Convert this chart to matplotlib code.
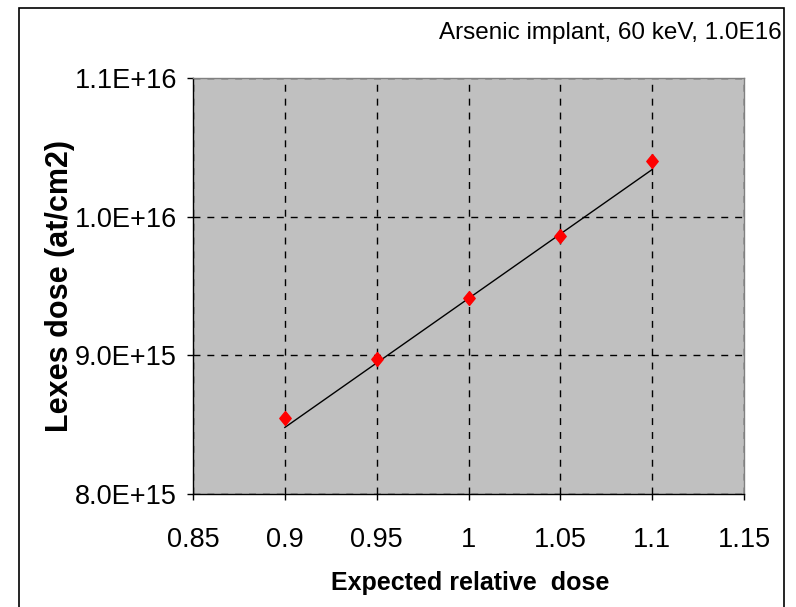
import matplotlib.pyplot as plt
from matplotlib.patches import Rectangle
from matplotlib.path import Path

plt.rcParams['font.family'] = ['Liberation Sans', 'DejaVu Sans']

rel_dose = [0.9, 0.95, 1.0, 1.05, 1.1]
lexes_dose = [8.55e15, 8.97e15, 9.41e15, 9.86e15, 1.040e16]

# straight reference line drawn through the points
line_x = [0.9, 1.1]
line_y = [8.48e15, 1.034e16]

x_ticks = [0.85, 0.9, 0.95, 1.0, 1.05, 1.1, 1.15]
x_labels = ['0.85', '0.9', '0.95', '1', '1.05', '1.1', '1.15']
y_ticks = [8.0e15, 9.0e15, 1.0e16, 1.1e16]
y_labels = ['8.0E+15', '9.0E+15', '1.0E+16', '1.1E+16']

W, H = 796, 607
fig = plt.figure(figsize=(W / 100, H / 100), dpi=100)
ax = fig.add_axes([193 / W, 1 - 494 / H, (744 - 193) / W, (494 - 78) / H])
ax.set_facecolor('#C0C0C0')

# Excel-style diamond, a bit taller than wide
diamond = Path([(0, 1), (0.82, 0), (0, -1), (-0.82, 0), (0, 1)],
               [Path.MOVETO, Path.LINETO, Path.LINETO, Path.LINETO, Path.CLOSEPOLY])

ax.plot(line_x, line_y, color='black', lw=1, zorder=3)
ax.plot(rel_dose, lexes_dose, ls='none', marker=diamond, ms=10,
        color='#FF0000', mec='#FF0000', zorder=4)

ax.set_xlim(0.85, 1.15)
ax.set_ylim(8.0e15, 1.1e16)
ax.set_xticks(x_ticks)
ax.set_xticklabels(x_labels)
ax.set_yticks(y_ticks)
ax.set_yticklabels(y_labels)
ax.tick_params(axis='both', labelsize=19.5, direction='out', length=4.5, width=1, color='black')
ax.tick_params(axis='x', pad=19)
ax.tick_params(axis='y', pad=7)

ax.grid(True, color='black', ls=(0, (5, 5)), lw=1)
ax.set_axisbelow(True)

for side in ['left', 'bottom']:
    ax.spines[side].set_color('black')
for side in ['top', 'right']:
    ax.spines[side].set_color('#808080')
for s in ax.spines.values():
    s.set_linewidth(1)

fig.text(60 / W, 1 - 286 / H, 'Lexes dose (at/cm2)', rotation=90,
         ha='center', va='center', fontsize=22, fontweight='bold')
fig.text(470 / W, 1 - 590 / H, 'Expected relative  dose',
         ha='center', va='baseline', fontsize=18, fontweight='bold')
fig.text(782 / W, 1 - 39 / H, 'Arsenic implant, 60 keV, 1.0E16',
         ha='right', va='baseline', fontsize=17.5)

# outer chart frame
fig.patches.append(Rectangle((19 / W, -0.01), (784 - 19) / W, 1 - 8 / H + 0.01,
                             transform=fig.transFigure, fill=False,
                             edgecolor='black', lw=1.2))

fig.savefig('out.png', dpi=100)
